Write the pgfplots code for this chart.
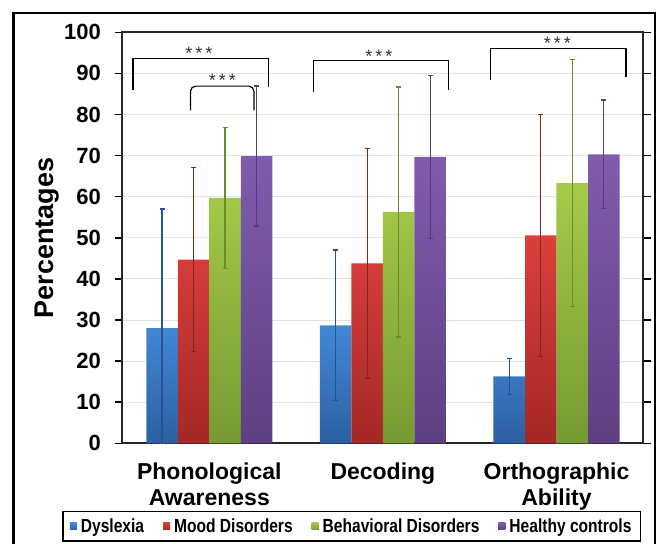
\documentclass[border=0pt]{standalone}
\usepackage{fontspec}
\setmainfont{Liberation Sans}
\newfontfamily\legendfont[FakeStretch=0.82]{Liberation Sans}
\usepackage{pgfplots}
\pgfplotsset{compat=1.18}

\definecolor{bluetop}{RGB}{66,136,214}
\definecolor{bluebot}{RGB}{44,96,162}
\definecolor{blueerr}{RGB}{40,82,150}
\definecolor{redtop}{RGB}{218,64,60}
\definecolor{redbot}{RGB}{165,40,38}
\definecolor{rederr}{RGB}{140,35,35}
\definecolor{greentop}{RGB}{166,202,72}
\definecolor{greenbot}{RGB}{118,154,50}
\definecolor{greenerr}{RGB}{105,140,45}
\definecolor{purpletop}{RGB}{128,92,174}
\definecolor{purplebot}{RGB}{94,64,130}
\definecolor{purpleerr}{RGB}{88,58,122}

\begin{document}
\begin{tikzpicture}
\begin{axis}[
  at={(122.5pt,100.7pt)}, anchor=south west,
  scale only axis, width=520.8pt, height=411pt,
  xmin=-0.5, xmax=2.5, ymin=0, ymax=100,
  ytick={0,10,...,100},
  xtick={0,1,2},
  xticklabels={{Phonological\\Awareness},{Decoding},{Orthographic\\Ability}},
  xticklabel style={align=center, font=\bfseries\fontsize{23}{25.5}\selectfont, inner sep=0pt, yshift=-12pt},
  yticklabel style={font=\bfseries\fontsize{22}{24}\selectfont, inner sep=0pt, xshift=-14pt},
  /pgf/number format/assume math mode=true,
  tick align=outside, major tick length=7.5pt,
  xtick style={draw=none},
  ytick style={line width=1.5pt, black},
  axis line style={line width=2pt, black!85},
  ymajorgrids, grid style={line width=0.8pt, gray!22},
  every axis y label/.style={at={(axis description cs:-0.168,0.5)}, rotate=90, anchor=north, inner sep=0pt, font=\bfseries\fontsize{27}{29}\selectfont},
  ylabel={Percentages},
  ybar, bar width=0.1815,
  clip=false,
  legend columns=4,
  legend style={at={(0.4401,-0.1647)}, anchor=north, draw=black, line width=1.3pt,
    font=\legendfont\bfseries\fontsize{19}{21}\selectfont, inner xsep=7pt, inner ysep=5pt,
    /tikz/every even column/.append style={column sep=17pt}, nodes={inner sep=2pt}},
  legend image code/.code={\path (0pt,0pt) -- (9pt,0pt); \fill[#1,draw=none] (0pt,-3.5pt) rectangle (7pt,3.5pt);},
  error bars/y dir=both, error bars/y explicit,
]
\addplot[draw=none, bar shift=-0.2722, top color=bluetop, bottom color=bluebot,
  error bars/error bar style={line width=1.3pt, color=blueerr},
  error bars/error mark options={rotate=90, mark size=2.5pt, line width=1.3pt, color=blueerr}]
  coordinates {(0,28) += (0,29) -= (0,28) (1,28.7) +- (0,18.3) (2,16.3) +- (0,4.4)};
\addlegendentry{Dyslexia}
\addplot[draw=none, bar shift=-0.0907, top color=redtop, bottom color=redbot,
  error bars/error bar style={line width=1.3pt, color=rederr},
  error bars/error mark options={rotate=90, mark size=2.5pt, line width=1.3pt, color=rederr}]
  coordinates {(0,44.7) +- (0,22.4) (1,43.8) +- (0,27.9) (2,50.6) +- (0,29.4)};
\addlegendentry{Mood Disorders}
\addplot[draw=none, bar shift=0.0907, top color=greentop, bottom color=greenbot,
  error bars/error bar style={line width=1.3pt, color=greenerr},
  error bars/error mark options={rotate=90, mark size=2.5pt, line width=1.3pt, color=greenerr}]
  coordinates {(0,59.7) +- (0,17.2) (1,56.3) +- (0,30.4) (2,63.3) +- (0,30.1)};
\addlegendentry{Behavioral Disorders}
\addplot[draw=none, bar shift=0.2722, top color=purpletop, bottom color=purplebot,
  error bars/error bar style={line width=1.3pt, color=purpleerr},
  error bars/error mark options={rotate=90, mark size=2.5pt, line width=1.3pt, color=purpleerr}]
  coordinates {(0,69.9) +- (0,17) (1,69.7) +- (0,19.8) (2,70.3) +- (0,13.2)};
\addlegendentry{Healthy controls}

% significance brackets
\draw[line width=1.5pt, black] (axis cs:-0.44,85.9) |- (axis cs:0.34,93.6) -- (axis cs:0.34,86.7);
\node[font=\fontsize{18}{18}\selectfont, text=black!80, yshift=-3.5pt] at (axis cs:-0.06,95.8) {*\,*\,*};
\draw[line width=1.2pt, black, rounded corners=5pt] (axis cs:-0.108,81) |- (axis cs:0.257,86.9) -- (axis cs:0.257,81);
\node[font=\fontsize{18}{18}\selectfont, text=black!80, yshift=-3.5pt] at (axis cs:0.075,89.2) {*\,*\,*};
\draw[line width=1.5pt, black] (axis cs:0.599,85.5) |- (axis cs:1.377,93.1) -- (axis cs:1.377,86.0);
\node[font=\fontsize{18}{18}\selectfont, text=black!80, yshift=-3.5pt] at (axis cs:0.977,94.9) {*\,*\,*};
\draw[line width=1.5pt, black] (axis cs:1.621,88.4) |- (axis cs:2.399,96.1) -- (axis cs:2.399,89.2);
\node[font=\fontsize{18}{18}\selectfont, text=black!80, yshift=-3.5pt] at (axis cs:2.005,98.1) {*\,*\,*};
\end{axis}
\draw[line width=2.5pt] (13.3pt,-10pt) -- (13.3pt,531pt) -- (655pt,531pt) -- (655pt,-10pt);
\pgfresetboundingbox
\useasboundingbox (0,0) rectangle (657pt,544pt);
\end{tikzpicture}
\end{document}
